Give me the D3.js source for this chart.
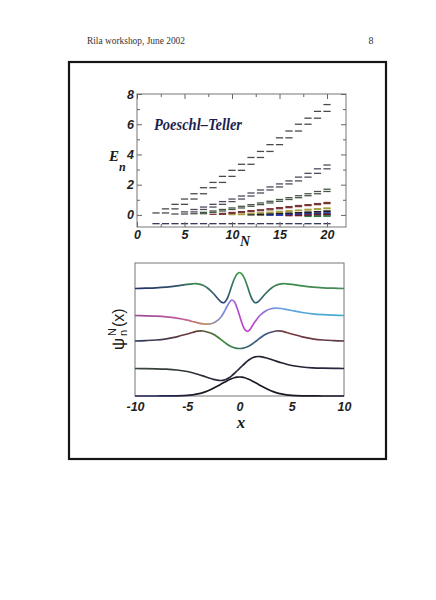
<!DOCTYPE html>
<html><head><meta charset="utf-8">
<script src="https://cdn.jsdelivr.net/npm/d3@7"></script>
<style>html,body{margin:0;padding:0;background:#fff;} svg{display:block;}</style>
</head><body>
<svg id="c" width="436" height="600"></svg>
<script>
// ---------------- DATA: top panel (energy levels E_n vs N) ----------------
const nTicks = [0, 5, 10, 15, 20];
const nMinorTicks = [2.5, 7.5, 12.5, 17.5];
const eTicks = [0, 2, 4, 6, 8];
const eMinorTicks = [1, 3, 5, 7];
// first N of each family of levels
const familyStart = [2, 4, 6, 8, 10, 12, 14, 16, 18];
const E1 = [0.13, 0.4, 0.7, 1.05, 1.4, 1.8, 2.15, 2.55, 2.95, 3.35, 3.8, 4.2, 4.65, 5.1, 5.55, 6.0, 6.4, 6.85, 7.3];
const E2 = [0.06, 0.2, 0.36, 0.52, 0.7, 0.88, 1.05, 1.25, 1.45, 1.65, 1.85, 2.05, 2.25, 2.5, 2.75, 3.05, 3.3];
const E3 = [0.08, 0.17, 0.26, 0.36, 0.46, 0.57, 0.68, 0.79, 0.9, 1.02, 1.14, 1.27, 1.4, 1.55, 1.7];
const E4 = [0.04, 0.1, 0.16, 0.22, 0.28, 0.34, 0.41, 0.48, 0.55, 0.62, 0.68, 0.75, 0.82];
const E5 = [0.02, 0.06, 0.1, 0.14, 0.18, 0.23, 0.28, 0.32, 0.37, 0.41, 0.46];
const E6 = [0.0, 0.03, 0.06, 0.09, 0.12, 0.15, 0.19, 0.22, 0.26];
const E7 = [-0.02, 0.0, 0.03, 0.05, 0.08, 0.1, 0.13];
const E8 = [-0.05, -0.03, -0.01, 0.02, 0.04];
const E9 = [-0.1, -0.08, -0.06];
const groundStart = 2;
const E0 = [-0.58, -0.58, -0.58, -0.58, -0.58, -0.58, -0.58, -0.58, -0.58, -0.58, -0.58, -0.58, -0.58, -0.58, -0.58, -0.58, -0.58, -0.58, -0.58];
const familyColors = ["#4a4a4a", "#504a5c", "#465646", "#7a3434", "#a89e40", "#1e1e1e", "#2434a0", "#701a30", "#2a7a3a"];

// ---------------- DATA: bottom panel (wavefunctions, offset) ----------------
const xTicks = [-10, -5, 0, 5, 10];
const xGrid = [-10,-9,-8,-7,-6,-5,-4.5,-4,-3.5,-3,-2.5,-2,-1.75,-1.5,-1.25,-1,-0.75,-0.5,-0.25,0,0.25,0.5,0.75,1,1.25,1.5,1.75,2,2.5,3,3.5,4,4.5,5,6,7,8,9,10];
const psi0 = [0,0,0,0.01,0.02,0.06,0.12,0.21,0.34,0.52,0.78,1.05,1.2,1.34,1.48,1.62,1.73,1.82,1.88,1.9,1.88,1.82,1.73,1.62,1.48,1.34,1.2,1.05,0.78,0.52,0.34,0.21,0.12,0.06,0.02,0.01,0,0,0];
const psi1 = [2.75,2.74,2.72,2.68,2.6,2.45,2.33,2.18,2.01,1.83,1.67,1.57,1.55,1.58,1.67,1.82,2.02,2.25,2.5,2.75,3.0,3.25,3.48,3.68,3.83,3.92,3.95,3.93,3.83,3.67,3.49,3.32,3.17,3.05,2.9,2.82,2.78,2.76,2.75];
const psi2 = [5.5,5.54,5.6,5.72,5.92,6.2,6.35,6.48,6.5,6.38,6.18,5.82,5.62,5.42,5.23,5.06,4.92,4.83,4.77,4.75,4.77,4.83,4.92,5.06,5.23,5.42,5.62,5.82,6.18,6.38,6.5,6.48,6.35,6.2,5.92,5.72,5.6,5.54,5.5];
const psi3 = [8.05,8.02,7.98,7.91,7.78,7.58,7.45,7.32,7.22,7.18,7.3,7.63,7.93,8.35,8.85,9.3,9.6,9.45,8.85,8.05,7.25,6.65,6.47,6.65,7.05,7.45,7.8,8.1,8.5,8.73,8.79,8.75,8.65,8.55,8.35,8.21,8.13,8.08,8.05];
const psi4 = [10.75,10.78,10.82,10.89,11.01,11.17,11.22,11.22,11.07,10.75,10.25,9.65,9.4,9.33,9.6,10.2,11.0,11.7,12.17,12.35,12.17,11.7,11.0,10.2,9.6,9.33,9.4,9.65,10.25,10.75,11.07,11.22,11.22,11.17,11.01,10.89,10.82,10.78,10.75];

// colour stops along x for each curve (scan look)
const grad0 = [[0,"#2a2a6a"],[0.35,"#1a1a22"],[1,"#1a1a2a"]];
const grad1 = [[0,"#3a4a3a"],[0.4,"#2a2a3a"],[0.7,"#202030"],[1,"#2a2a44"]];
const grad2 = [[0,"#2a3a5e"],[0.28,"#6a3a3a"],[0.42,"#3a8a3a"],[0.52,"#3a6a6a"],[0.62,"#3a5a8a"],[0.72,"#7a3a3a"],[1,"#5a3a4a"]];
const grad3 = [[0,"#9a4a9a"],[0.22,"#c05a9a"],[0.33,"#c08a60"],[0.43,"#7a8ae0"],[0.5,"#b848c8"],[0.56,"#c040c8"],[0.68,"#6aa0e0"],[1,"#40b0c8"]];
const grad4 = [[0,"#27306a"],[0.2,"#2f4f6a"],[0.3,"#3a8a48"],[0.42,"#2e3f80"],[0.5,"#36a040"],[0.58,"#2e5a70"],[0.7,"#3a8a48"],[1,"#4a8a5a"]];

// ---------------- DRAW ----------------
const svg = d3.select("#c");
svg.append("rect").attr("width",436).attr("height",600).attr("fill","#ffffff");

// page header
svg.append("text").attr("x",87).attr("y",44).attr("textLength",98).attr("lengthAdjust","spacingAndGlyphs")
  .style("font-family","'Liberation Serif', serif").style("font-size","10px").attr("fill","#333")
  .text("Rila workshop, June 2002");
svg.append("text").attr("x",371).attr("y",44).attr("text-anchor","middle")
  .style("font-family","'Liberation Serif', serif").style("font-size","10px").attr("fill","#333").text("8");

// outer box
svg.append("rect").attr("x",69).attr("y",62).attr("width",317).attr("height",397)
  .attr("fill","none").attr("stroke","#151515").attr("stroke-width",2.2);

const tickFont = g => g.selectAll("text")
  .style("font-family","'Liberation Sans', Arial, sans-serif").style("font-weight","bold")
  .style("font-style","italic").style("font-size","12.5px").attr("fill","#1e1e1e");

// ===== top panel =====
const xT = d3.scaleLinear().domain([0,22]).range([137,346]);
const yT = d3.scaleLinear().domain([-0.8,8]).range([227,94]);
const topG = svg.append("g");

const families = [E1,E2,E3,E4,E5,E6,E7,E8,E9];
const dashes = [];
families.forEach((vals,j) => {
  vals.forEach((v,i) => {
    const n = familyStart[j] + i;
    dashes.push({N:n, E:v, c:familyColors[j]});
    if (n + 1 <= 20) dashes.push({N:n+1, E:v, c:familyColors[j]});
  });
});
E0.forEach((v,i) => dashes.push({N:groundStart+i, E:v, c:"#3a3a5a"}));

topG.selectAll("line.lev").data(dashes).join("line").attr("class","lev")
  .attr("x1",d=>xT(d.N-0.38)).attr("x2",d=>xT(d.N+0.38))
  .attr("y1",d=>yT(d.E)).attr("y2",d=>yT(d.E))
  .attr("stroke",d=>d.c).attr("stroke-width",1.3);

// frame
topG.append("rect").attr("x",xT(0)).attr("y",yT(8)).attr("width",xT(22)-xT(0)).attr("height",yT(-0.8)-yT(8))
  .attr("fill","none").attr("stroke","#777").attr("stroke-width",1);

const axStyle = g => { g.select(".domain").remove(); g.selectAll("line").attr("stroke","#666"); };
topG.append("g").attr("transform",`translate(0,${yT(-0.8)})`)
  .call(d3.axisBottom(xT).tickValues(nTicks).tickSize(-5).tickPadding(3).tickFormat(d3.format("d")))
  .call(axStyle).call(tickFont);
topG.append("g").attr("transform",`translate(0,${yT(-0.8)})`)
  .call(d3.axisBottom(xT).tickValues(nMinorTicks).tickSize(-3).tickFormat("")).call(axStyle);
topG.append("g").attr("transform",`translate(0,${yT(8)})`)
  .call(d3.axisTop(xT).tickValues(nTicks).tickSize(-5).tickFormat("")).call(axStyle);
topG.append("g").attr("transform",`translate(0,${yT(8)})`)
  .call(d3.axisTop(xT).tickValues(nMinorTicks).tickSize(-3).tickFormat("")).call(axStyle);
topG.append("g").attr("transform",`translate(${xT(0)},0)`)
  .call(d3.axisLeft(yT).tickValues(eTicks).tickSize(-5).tickPadding(3).tickFormat(d3.format("d")))
  .call(axStyle).call(tickFont);
topG.append("g").attr("transform",`translate(${xT(0)},0)`)
  .call(d3.axisLeft(yT).tickValues(eMinorTicks).tickSize(-3).tickFormat("")).call(axStyle);
topG.append("g").attr("transform",`translate(${xT(22)},0)`)
  .call(d3.axisRight(yT).tickValues(eTicks).tickSize(-5).tickFormat("")).call(axStyle);
topG.append("g").attr("transform",`translate(${xT(22)},0)`)
  .call(d3.axisRight(yT).tickValues(eMinorTicks).tickSize(-3).tickFormat("")).call(axStyle);

const serifLab = s => s.style("font-family","'Liberation Serif', serif").style("font-weight","bold")
  .style("font-style","italic").attr("fill","#1a1a1a");
topG.append("text").attr("x",109).attr("y",161).style("font-size","15px").call(serifLab).text("E");
topG.append("text").attr("x",119).attr("y",171).style("font-size","12px").call(serifLab).text("n");
topG.append("text").attr("x",240).attr("y",246).style("font-size","14px").call(serifLab).text("N");

topG.append("text").attr("x",154).attr("y",130).attr("textLength",88).attr("lengthAdjust","spacingAndGlyphs")
  .style("font-family","'Liberation Serif', serif").style("font-style","italic").style("font-weight","bold")
  .style("font-size","17px").attr("fill","#1c1f50")
  .text("Poeschl\u2013Teller");

// ===== bottom panel =====
const xB = d3.scaleLinear().domain([-10,10]).range([135,344]);
const yB = d3.scaleLinear().domain([0,13.3]).range([396,263]);
const bot = svg.append("g");
const defs = svg.append("defs");
const grads = [grad0,grad1,grad2,grad3,grad4];
grads.forEach((st,i) => {
  const lg = defs.append("linearGradient").attr("id","g"+i).attr("gradientUnits","userSpaceOnUse")
    .attr("x1",xB.range()[0]).attr("x2",xB.range()[1]).attr("y1",0).attr("y2",0);
  st.forEach(s => lg.append("stop").attr("offset",s[0]).attr("stop-color",s[1]));
});
bot.append("rect").attr("x",xB(-10)).attr("y",yB(13.3)).attr("width",xB(10)-xB(-10)).attr("height",yB(0)-yB(13.3))
  .attr("fill","none").attr("stroke","#777").attr("stroke-width",1);

const line = d3.line().x((d,i)=>xB(xGrid[i])).y(d=>yB(d)).curve(d3.curveCatmullRom.alpha(0.5));
[psi0,psi1,psi2,psi3,psi4].forEach((p,i) => {
  bot.append("path").attr("d",line(p)).attr("fill","none").attr("stroke",`url(#g${i})`).attr("stroke-width",1.7);
});

bot.append("g").attr("transform",`translate(0,${yB(0)})`)
  .call(d3.axisBottom(xB).tickValues(xTicks).tickSize(0).tickPadding(6).tickFormat(d => d<0 ? "-"+Math.abs(d) : String(d)))
  .call(axStyle).call(tickFont);

bot.append("text").attr("x",241).attr("y",428).attr("text-anchor","middle").style("font-size","17px").call(serifLab).text("x");

// y label psi_n^N(x)
const yl = bot.append("g").attr("transform","translate(124,350) rotate(-90)")
  .style("font-family","'Liberation Sans', Arial, sans-serif").attr("fill","#1a1a1a");
yl.append("text").attr("x",0).attr("y",0).style("font-size","17px").text("\u03C8");
yl.append("text").attr("x",14).attr("y",3).style("font-size","11px").text("n");
yl.append("text").attr("x",14).attr("y",-8).style("font-size","11px").text("N");
yl.append("text").attr("x",23).attr("y",0).style("font-size","16px").text("(x)");
</script>
</body></html>
